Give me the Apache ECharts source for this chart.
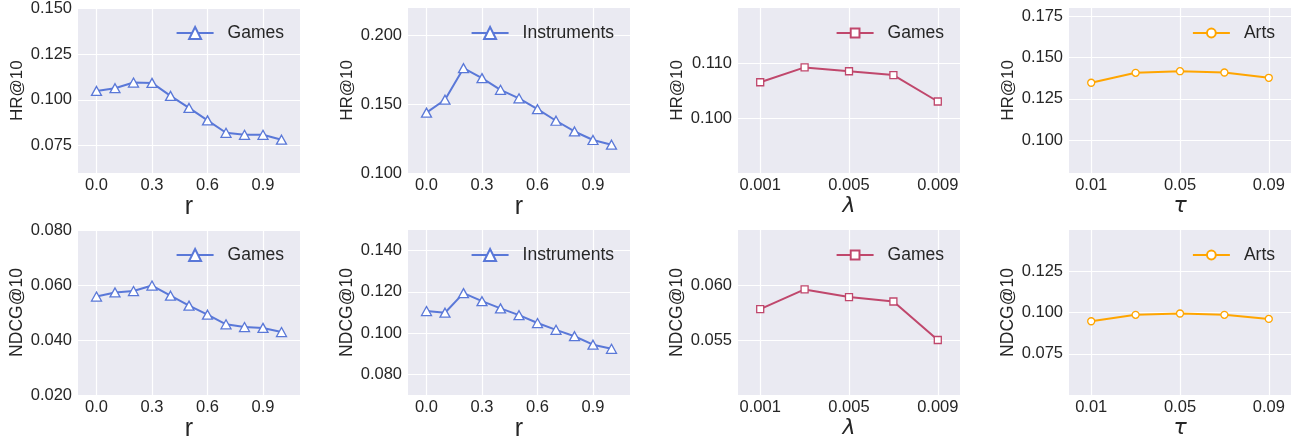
<!DOCTYPE html>
<html>
<head>
<meta charset="utf-8">
<script src="https://cdn.jsdelivr.net/npm/echarts@6/dist/echarts.min.js"></script>
<style>
html, body { margin: 0; padding: 0; background: #fff; }
#chart { width: 1295px; height: 444px; }
</style>
</head>
<body>
<div id="chart"></div>
<script>
// x values
var rValues = [0.0, 0.1, 0.2, 0.3, 0.4, 0.5, 0.6, 0.7, 0.8, 0.9, 1.0];
var lambdaValues = [0.001, 0.003, 0.005, 0.007, 0.009];
var tauValues = [0.01, 0.03, 0.05, 0.07, 0.09];

// tick labels
var rTicks = [0.0, 0.3, 0.6, 0.9];
var lambdaTicks = [0.001, 0.005, 0.009];
var tauTicks = [0.01, 0.05, 0.09];

// HR@10
var hrGamesR = [0.1049, 0.1064, 0.1095, 0.1093, 0.1022, 0.0956, 0.0888, 0.0820, 0.0809, 0.0809, 0.0782];
var hrInstrR = [0.1439, 0.1533, 0.1762, 0.1690, 0.1605, 0.1543, 0.1464, 0.1380, 0.1302, 0.1240, 0.1206];
var hrGamesLambda = [0.1065, 0.1092, 0.1085, 0.1078, 0.1030];
var hrArtsTau = [0.1347, 0.1407, 0.1417, 0.1409, 0.1377];

// NDCG@10
var ndcgGamesR = [0.0558, 0.0573, 0.0578, 0.0598, 0.0561, 0.0525, 0.0492, 0.0457, 0.0447, 0.0444, 0.0429];
var ndcgInstrR = [0.1107, 0.1099, 0.1194, 0.1155, 0.1120, 0.1087, 0.1049, 0.1016, 0.0985, 0.0944, 0.0924];
var ndcgGamesLambda = [0.0578, 0.0596, 0.0589, 0.0585, 0.0550];
var ndcgArtsTau = [0.0947, 0.0986, 0.0994, 0.0986, 0.0961];

// y ticks
var yTicksHrGamesR = [0.075, 0.100, 0.125, 0.150];
var yTicksHrInstrR = [0.100, 0.150, 0.200];
var yTicksHrGamesLambda = [0.100, 0.110];
var yTicksHrArtsTau = [0.100, 0.125, 0.150, 0.175];
var yTicksNdcgGamesR = [0.020, 0.040, 0.060, 0.080];
var yTicksNdcgInstrR = [0.080, 0.100, 0.120, 0.140];
var yTicksNdcgGamesLambda = [0.055, 0.060];
var yTicksNdcgArtsTau = [0.075, 0.100, 0.125];

var BLUE = '#5a78d8', RED = '#c0476c', ORANGE = '#ffa500';
var TXT = '#262626';

var zip = function(xs, ys) {
	var rtn = [];
	xs.forEach(function(x, i) { rtn.push([x, ys[i]]); });
	return rtn;
};

var panels = [
	{ name: 'Games', x: rValues, y: hrGamesR, xt: rTicks, yt: yTicksHrGamesR, xr: [-0.1, 1.1], yr: [0.06, 0.15], xd: 1, yl: 'HR@10', xl: 'r', kind: 'tri' },
	{ name: 'Instruments', x: rValues, y: hrInstrR, xt: rTicks, yt: yTicksHrInstrR, xr: [-0.1, 1.1], yr: [0.10, 0.22], xd: 1, yl: 'HR@10', xl: 'r', kind: 'tri' },
	{ name: 'Games', x: lambdaValues, y: hrGamesLambda, xt: lambdaTicks, yt: yTicksHrGamesLambda, xr: [0, 0.01], yr: [0.09, 0.12], xd: 3, yl: 'HR@10', xl: 'λ', kind: 'sq' },
	{ name: 'Arts', x: tauValues, y: hrArtsTau, xt: tauTicks, yt: yTicksHrArtsTau, xr: [0, 0.1], yr: [0.08, 0.18], xd: 2, yl: 'HR@10', xl: 'τ', kind: 'circ' },
	{ name: 'Games', x: rValues, y: ndcgGamesR, xt: rTicks, yt: yTicksNdcgGamesR, xr: [-0.1, 1.1], yr: [0.02, 0.08], xd: 1, yl: 'NDCG@10', xl: 'r', kind: 'tri' },
	{ name: 'Instruments', x: rValues, y: ndcgInstrR, xt: rTicks, yt: yTicksNdcgInstrR, xr: [-0.1, 1.1], yr: [0.07, 0.15], xd: 1, yl: 'NDCG@10', xl: 'r', kind: 'tri' },
	{ name: 'Games', x: lambdaValues, y: ndcgGamesLambda, xt: lambdaTicks, yt: yTicksNdcgGamesLambda, xr: [0, 0.01], yr: [0.05, 0.065], xd: 3, yl: 'NDCG@10', xl: 'λ', kind: 'sq' },
	{ name: 'Arts', x: tauValues, y: ndcgArtsTau, xt: tauTicks, yt: yTicksNdcgArtsTau, xr: [0, 0.1], yr: [0.05, 0.15], xd: 2, yl: 'NDCG@10', xl: 'τ', kind: 'circ' }
];

var styles = {
	tri: { color: BLUE, symbol: 'triangle', size: [10, 9], legendH: 15 },
	sq: { color: RED, symbol: 'rect', size: 7, legendH: 11 },
	circ: { color: ORANGE, symbol: 'circle', size: 7, legendH: 11 }
};

var lefts = [78, 408, 738, 1069];
var tops = [8, 230];
var W = 222, H = 165;

var grid = [], xAxis = [], yAxis = [], series = [], legend = [];

panels.forEach(function(p, i) {
	var col = i % 4, row = Math.floor(i / 4);
	var st = styles[p.kind];
	var sname = p.name + '|' + i;
	var isMath = p.xl !== 'r';

	grid.push({
		left: lefts[col], top: tops[row], width: W, height: H,
		show: true, backgroundColor: '#eaeaf2', borderWidth: 0
	});

	xAxis.push({
		type: 'value', gridIndex: i,
		min: p.xr[0], max: p.xr[1],
		axisLine: { show: false },
		axisTick: { show: false, customValues: p.xt },
		axisLabel: {
			customValues: p.xt, color: TXT, fontSize: 16.5, margin: 4,
			fontFamily: 'Liberation Sans',
			formatter: (function(d) { return function(v) { return v.toFixed(d); }; })(p.xd)
		},
		splitLine: { show: true, lineStyle: { color: '#fff', width: 1.2 } },
		name: p.xl, nameLocation: 'middle', nameGap: isMath ? 21 : 19,
		nameTextStyle: {
			color: TXT, fontSize: isMath ? 22 : 25,
			fontFamily: isMath ? 'DejaVu Sans' : 'Liberation Sans',
			fontStyle: isMath ? 'italic' : 'normal'
		}
	});

	yAxis.push({
		type: 'value', gridIndex: i,
		min: p.yr[0], max: p.yr[1],
		axisLine: { show: false },
		axisTick: { show: false, customValues: p.yt },
		axisLabel: {
			customValues: p.yt, color: TXT, fontSize: 16.5, margin: 6,
			fontFamily: 'Liberation Sans',
			formatter: function(v) { return v.toFixed(3); }
		},
		splitLine: { show: true, lineStyle: { color: '#fff', width: 1.2 } },
		name: p.yl, nameLocation: 'middle', nameGap: 52,
		nameTextStyle: { color: TXT, fontSize: p.yl === 'HR@10' ? 17 : 17.5, fontFamily: 'Liberation Sans' }
	});

	series.push({
		name: sname, type: 'line',
		xAxisIndex: i, yAxisIndex: i,
		data: zip(p.x, p.y),
		symbol: st.symbol, symbolSize: st.size,
		showAllSymbol: true,
		lineStyle: { color: st.color, width: 2 },
		itemStyle: { color: '#fff', borderColor: st.color, borderWidth: 1.3 },
		emphasis: { disabled: true },
		animation: false
	});

	legend.push({
		data: [sname],
		right: 1295 - (lefts[col] + W) + 16,
		top: tops[row] + 16,
		padding: 0,
		itemWidth: 37, itemHeight: st.legendH,
		selectedMode: false,
		formatter: function(n) { return n.split('|')[0]; },
		textStyle: { color: TXT, fontSize: 17.5, fontFamily: 'Liberation Sans', padding: [0, 0, 0, 9] }
	});
});

var chart = echarts.init(document.getElementById('chart'));
chart.setOption({
	animation: false,
	grid: grid,
	xAxis: xAxis,
	yAxis: yAxis,
	legend: legend,
	series: series
});
</script>
</body>
</html>
